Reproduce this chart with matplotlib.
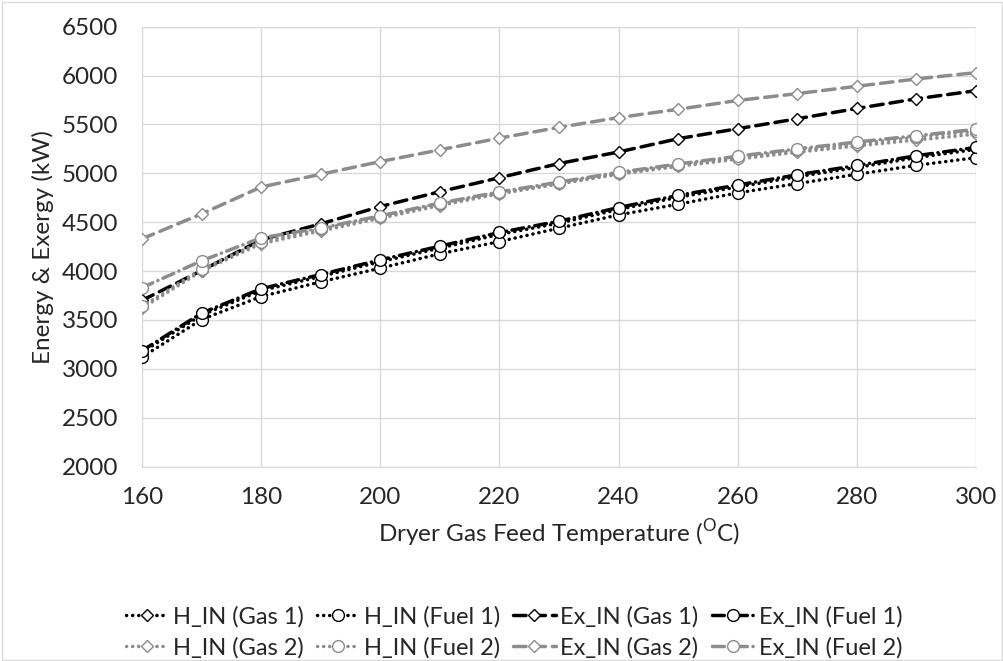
import matplotlib
matplotlib.use("Agg")
import matplotlib.pyplot as plt
from matplotlib.patches import Rectangle

plt.rcParams['font.family'] = ['Lato', 'DejaVu Sans']
plt.rcParams['mathtext.fontset'] = 'custom'
plt.rcParams['mathtext.rm'] = 'Lato'

temperature = [160, 170, 180, 190, 200, 210, 220, 230, 240, 250, 260, 270, 280, 290, 300]

h_in_gas1 = [3170, 3550, 3800, 3945, 4095, 4235, 4375, 4490, 4630, 4755, 4860, 4965, 5060, 5160, 5245]
h_in_fuel1 = [3120, 3505, 3740, 3890, 4030, 4177, 4302, 4439, 4575, 4684, 4800, 4895, 4990, 5082, 5160]
ex_in_gas1 = [3700, 4005, 4320, 4483, 4660, 4812, 4955, 5100, 5218, 5354, 5456, 5558, 5663, 5762, 5845]
ex_in_fuel1 = [3185, 3570, 3820, 3965, 4115, 4255, 4395, 4510, 4650, 4775, 4880, 4985, 5080, 5180, 5265]
h_in_gas2 = [3620, 4000, 4280, 4410, 4540, 4670, 4790, 4890, 4990, 5070, 5145, 5215, 5280, 5340, 5400]
h_in_fuel2 = [3640, 4020, 4300, 4430, 4555, 4685, 4800, 4900, 5000, 5085, 5160, 5235, 5300, 5370, 5430]
ex_in_gas2 = [4330, 4585, 4860, 4990, 5120, 5240, 5360, 5470, 5570, 5655, 5745, 5815, 5890, 5965, 6030]
ex_in_fuel2 = [3830, 4105, 4340, 4440, 4565, 4695, 4810, 4910, 5010, 5095, 5175, 5250, 5320, 5385, 5450]

BLACK = '#000000'
GRAY = '#8c8c8c'
TEXT = '#262626'
DOT = (0, (0.05, 1.7))
DASH = (0, (3.6, 2.0))
DASHDOT = (0, (3.4, 1.6, 0.05, 1.6))

series = [
    ("H_IN (Gas 1)", h_in_gas1, BLACK, DOT, 'D'),
    ("H_IN (Fuel 1)", h_in_fuel1, BLACK, DOT, 'o'),
    ("Ex_IN (Gas 1)", ex_in_gas1, BLACK, DASH, 'D'),
    ("Ex_IN (Fuel 1)", ex_in_fuel1, BLACK, DASHDOT, 'o'),
    ("H_IN (Gas 2)", h_in_gas2, GRAY, DOT, 'D'),
    ("H_IN (Fuel 2)", h_in_fuel2, GRAY, DOT, 'o'),
    ("Ex_IN (Gas 2)", ex_in_gas2, GRAY, DASH, 'D'),
    ("Ex_IN (Fuel 2)", ex_in_fuel2, GRAY, DASHDOT, 'o'),
]

fig = plt.figure(figsize=(10.04, 6.61), dpi=100)
fig.patches.append(Rectangle((0.002, 0.002), 0.996, 0.995, transform=fig.transFigure,
                             fill=False, edgecolor='#d9d9d9', linewidth=1))
ax = fig.add_axes([0.1414, 0.294, 0.8307, 0.6657])

handles = []
for label, values, color, ls, marker in series:
    ms = 6.5 if marker == 'D' else 8.5
    line, = ax.plot(temperature, values, color=color, linestyle=ls, linewidth=2.5,
                    dash_capstyle='round', marker=marker, markersize=ms,
                    markerfacecolor='white', markeredgecolor=color,
                    markeredgewidth=1.0, label=label, zorder=3)
    handles.append(line)

ax.set_xlim(160, 300)
ax.set_ylim(2000, 6500)
ax.set_xticks(range(160, 301, 20))
ax.set_yticks(range(2000, 6501, 500))
ax.grid(True, color='#d9d9d9', linewidth=1)
ax.set_axisbelow(True)
for side in ['top', 'right']:
    ax.spines[side].set_visible(False)
for side in ['left', 'bottom']:
    ax.spines[side].set_color('#d9d9d9')
ax.tick_params(axis='y', length=0, labelsize=17.5, colors=TEXT, pad=17)
ax.tick_params(axis='x', length=0, labelsize=17.5, colors=TEXT, pad=15)

ax.set_xlabel(r'Dryer Gas Feed Temperature ($^{\mathrm{O}}$C)', fontsize=17.5, color=TEXT, labelpad=6)
ax.set_ylabel('Energy & Exergy (kW)', fontsize=17.5, color=TEXT, labelpad=6)

# legend filled row by row: reorder for column-major placement
order = [0, 4, 1, 5, 2, 6, 3, 7]
fig.legend(handles=[handles[i] for i in order], loc='center', bbox_to_anchor=(0.512, 0.044), ncol=4,
           frameon=False, fontsize=17, handlelength=1.8, handletextpad=0.2,
           columnspacing=0.55, labelspacing=0.4, labelcolor=TEXT)

fig.savefig('out.png', dpi=100)
